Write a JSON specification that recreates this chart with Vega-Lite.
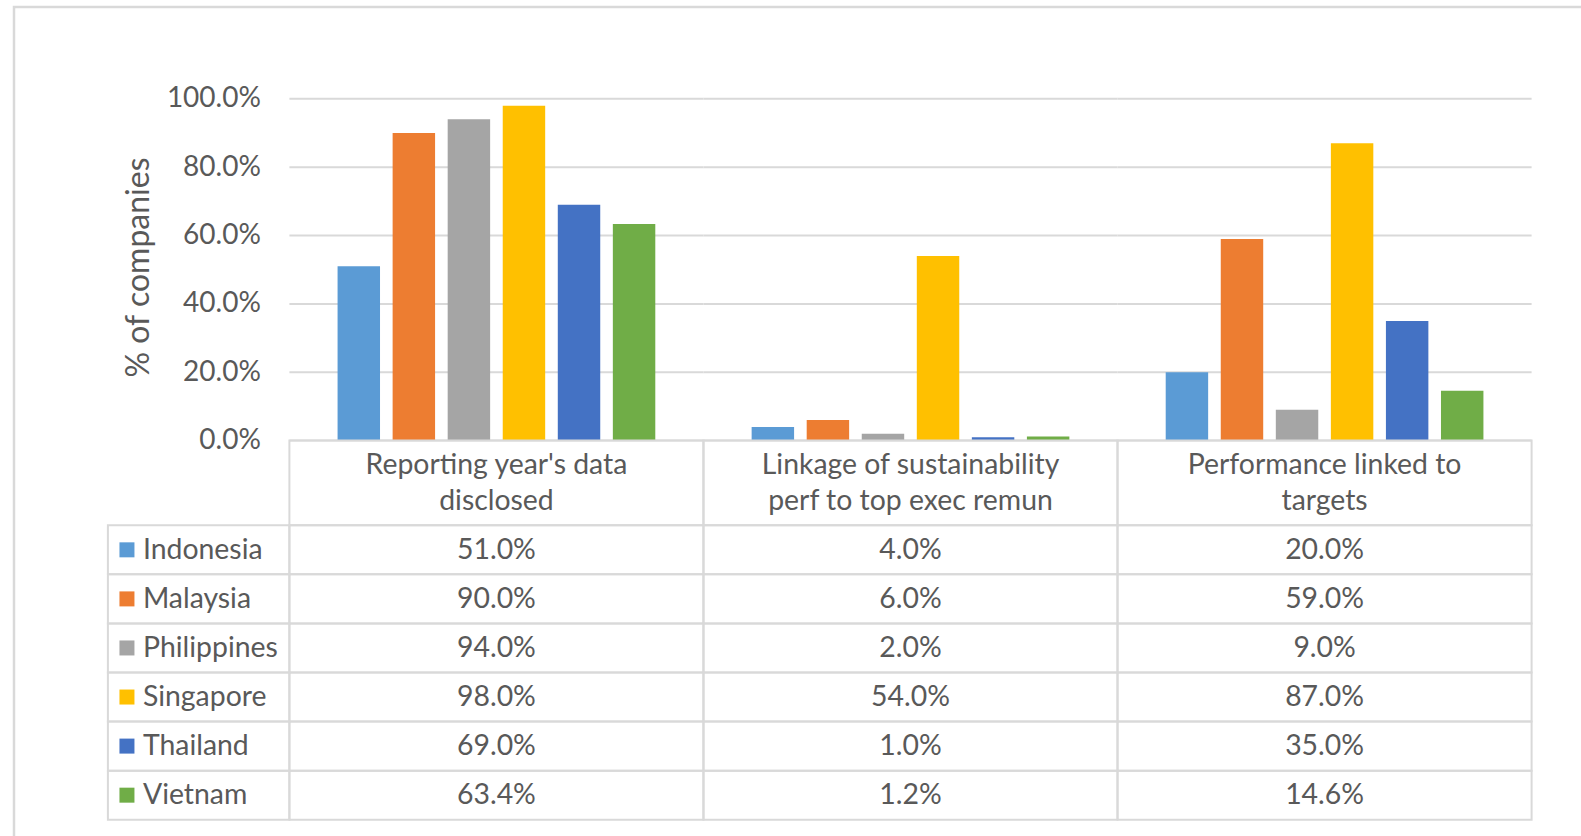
{
  "$schema": "https://vega.github.io/schema/vega-lite/v6.json",
  "width": 1567,
  "height": 829,
  "autosize": {"type": "none"},
  "padding": {"left": 14, "top": 7, "right": 0, "bottom": 0},
  "background": "white",
  "config": {
    "font": "Lato",
    "view": {"stroke": "#d9d9d9", "strokeWidth": 2.5, "strokeDash": [1567, 2396, 829]},
    "text": {"font": "Lato", "fontSize": 28.4, "color": "#595959"}
  },
  "datasets": {
    "cells": [
      {"country": "Indonesia", "category": "Reporting year's data disclosed", "value": 0.51},
      {"country": "Indonesia", "category": "Linkage of sustainability perf to top exec remun", "value": 0.04},
      {"country": "Indonesia", "category": "Performance linked to targets", "value": 0.20},
      {"country": "Malaysia", "category": "Reporting year's data disclosed", "value": 0.90},
      {"country": "Malaysia", "category": "Linkage of sustainability perf to top exec remun", "value": 0.06},
      {"country": "Malaysia", "category": "Performance linked to targets", "value": 0.59},
      {"country": "Philippines", "category": "Reporting year's data disclosed", "value": 0.94},
      {"country": "Philippines", "category": "Linkage of sustainability perf to top exec remun", "value": 0.02},
      {"country": "Philippines", "category": "Performance linked to targets", "value": 0.09},
      {"country": "Singapore", "category": "Reporting year's data disclosed", "value": 0.98},
      {"country": "Singapore", "category": "Linkage of sustainability perf to top exec remun", "value": 0.54},
      {"country": "Singapore", "category": "Performance linked to targets", "value": 0.87},
      {"country": "Thailand", "category": "Reporting year's data disclosed", "value": 0.69},
      {"country": "Thailand", "category": "Linkage of sustainability perf to top exec remun", "value": 0.01},
      {"country": "Thailand", "category": "Performance linked to targets", "value": 0.35},
      {"country": "Vietnam", "category": "Reporting year's data disclosed", "value": 0.634},
      {"country": "Vietnam", "category": "Linkage of sustainability perf to top exec remun", "value": 0.012},
      {"country": "Vietnam", "category": "Performance linked to targets", "value": 0.146}
    ],
    "grid": [
      {"category": "Reporting year's data disclosed", "v": [0, 0.2, 0.4, 0.6, 0.8, 1]},
      {"category": "Linkage of sustainability perf to top exec remun", "v": [0, 0.2, 0.4, 0.6, 0.8, 1]},
      {"category": "Performance linked to targets", "v": [0, 0.2, 0.4, 0.6, 0.8, 1]}
    ],
    "header": [
      {"category": "Reporting year's data disclosed", "lines": ["Reporting year's data", "disclosed"]},
      {"category": "Linkage of sustainability perf to top exec remun", "lines": ["Linkage of sustainability", "perf to top exec remun"]},
      {"category": "Performance linked to targets", "lines": ["Performance linked to", "targets"]}
    ],
    "series": [
      {"country": "Indonesia"},
      {"country": "Malaysia"},
      {"country": "Philippines"},
      {"country": "Singapore"},
      {"country": "Thailand"},
      {"country": "Vietnam"}
    ]
  },
  "resolve": {"scale": {"x": "independent", "y": "independent"}},
  "layer": [
    {
      "layer": [
        {
          "data": {"name": "grid"},
          "transform": [{"flatten": ["v"]}],
          "mark": {"type": "rect", "fill": null, "stroke": "#d9d9d9", "strokeWidth": 2},
          "encoding": {
            "x": {"field": "category", "type": "nominal", "axis": null,
                  "scale": {"domain": ["Reporting year's data disclosed", "Linkage of sustainability perf to top exec remun", "Performance linked to targets"], "paddingInner": 0, "paddingOuter": 0, "range": [275.4, 1517.6]}},
            "y": {"field": "v", "type": "quantitative",
                  "scale": {"domain": [0, 1], "nice": false, "zero": false, "range": [433.6, 91.8]},
                  "axis": {"values": [0, 0.2, 0.4, 0.6, 0.8, 1], "format": ".1%", "domain": false, "ticks": false, "grid": false,
                           "offset": -275.4, "labelPadding": 29, "labelOverlap": false, "labelFlush": false,
                           "labelFont": "Lato", "labelFontSize": 28, "labelColor": "#595959",
                           "title": "% of companies", "titleFont": "Lato", "titleFontSize": 32, "titleFontWeight": "normal",
                           "titleColor": "#595959", "titleAngle": 270, "titleAlign": "center", "titleBaseline": "middle",
                           "titleX": -151.4, "titleY": 260}},
            "y2": {"field": "v"}
          }
        },
        {
          "data": {"name": "cells"},
          "mark": {"type": "bar"},
          "encoding": {
            "x": {"field": "category", "type": "nominal", "axis": null},
            "xOffset": {"field": "country", "type": "nominal",
                        "scale": {"domain": ["Indonesia", "Malaysia", "Philippines", "Singapore", "Thailand", "Vietnam"], "paddingInner": 0.229, "paddingOuter": 0.875}},
            "y": {"field": "value", "type": "quantitative"},
            "y2": {"datum": 0},
            "color": {"field": "country", "type": "nominal", "legend": null,
                      "scale": {"domain": ["Indonesia", "Malaysia", "Philippines", "Singapore", "Thailand", "Vietnam"],
                                "range": ["#5b9bd5", "#ed7d31", "#a5a5a5", "#ffc000", "#4472c4", "#70ad47"]}}
          }
        }
      ]
    },
    {
      "data": {"name": "header"},
      "encoding": {
        "x": {"field": "category", "type": "nominal", "axis": null,
              "scale": {"domain": ["Reporting year's data disclosed", "Linkage of sustainability perf to top exec remun", "Performance linked to targets"], "paddingInner": 0, "paddingOuter": 0, "range": [275.4, 1517.6]}},
        "y": {"datum": "Category", "type": "nominal", "axis": null,
              "scale": {"domain": ["Category"], "paddingInner": 0, "paddingOuter": 0, "range": [433.6, 518.3]}}
      },
      "layer": [
        {"mark": {"type": "rect", "fill": null, "stroke": "#d9d9d9", "strokeWidth": 2}},
        {"mark": {"type": "text", "align": "center", "baseline": "middle", "lineHeight": 36.4},
         "encoding": {
           "y": {"datum": "Category", "type": "nominal", "bandPosition": 0.285},
           "text": {"field": "lines"}
         }}
      ]
    },
    {
      "data": {"name": "cells"},
      "encoding": {
        "x": {"field": "category", "type": "nominal", "axis": null,
              "scale": {"domain": ["Reporting year's data disclosed", "Linkage of sustainability perf to top exec remun", "Performance linked to targets"], "paddingInner": 0, "paddingOuter": 0, "range": [275.4, 1517.6]}},
        "y": {"field": "country", "type": "nominal", "axis": null,
              "scale": {"domain": ["Indonesia", "Malaysia", "Philippines", "Singapore", "Thailand", "Vietnam"], "paddingInner": 0, "paddingOuter": 0, "range": [518.3, 812.7]}}
      },
      "layer": [
        {"mark": {"type": "rect", "fill": null, "stroke": "#d9d9d9", "strokeWidth": 2}},
        {"mark": {"type": "text", "align": "center", "baseline": "middle"},
         "encoding": {"text": {"field": "value", "type": "quantitative", "format": ".1%"}}}
      ]
    },
    {
      "data": {"name": "series"},
      "encoding": {
        "x": {"datum": "Country", "type": "nominal", "axis": null,
              "scale": {"domain": ["Country"], "paddingInner": 0, "paddingOuter": 0, "range": [93.9, 275.4]}},
        "y": {"field": "country", "type": "nominal", "axis": null,
              "scale": {"domain": ["Indonesia", "Malaysia", "Philippines", "Singapore", "Thailand", "Vietnam"], "paddingInner": 0, "paddingOuter": 0, "range": [518.3, 812.7]}}
      },
      "layer": [
        {"mark": {"type": "rect", "fill": null, "stroke": "#d9d9d9", "strokeWidth": 2}},
        {"mark": {"type": "square", "size": 225, "filled": true, "opacity": 1},
         "encoding": {"x": {"datum": "Country", "type": "nominal", "bandPosition": 0.105},
                      "color": {"field": "country", "type": "nominal", "legend": null,
                                "scale": {"domain": ["Indonesia", "Malaysia", "Philippines", "Singapore", "Thailand", "Vietnam"],
                                          "range": ["#5b9bd5", "#ed7d31", "#a5a5a5", "#ffc000", "#4472c4", "#70ad47"]}}}},
        {"mark": {"type": "text", "align": "left", "baseline": "middle"},
         "encoding": {"x": {"datum": "Country", "type": "nominal", "bandPosition": 0.193},
                      "text": {"field": "country"}}}
      ]
    }
  ]
}
